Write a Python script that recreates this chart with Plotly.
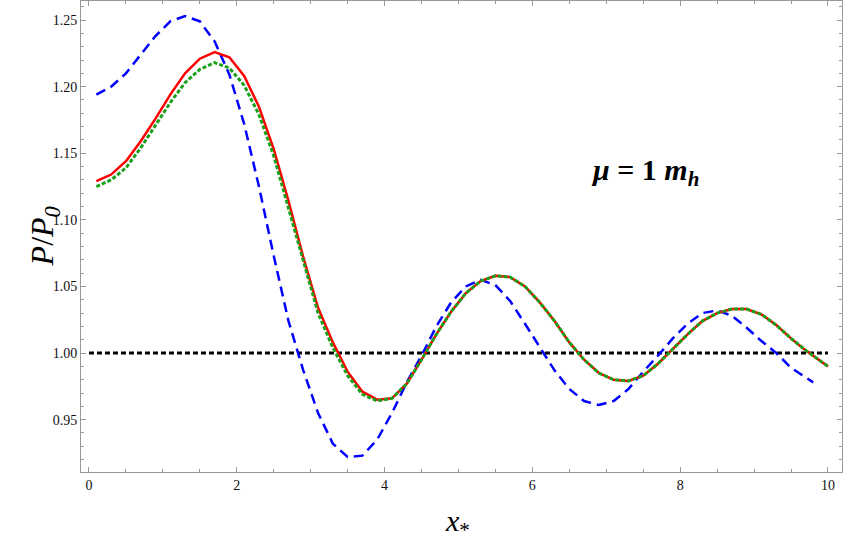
import plotly.graph_objects as go

x_vals = [0.1, 0.3, 0.5, 0.7, 0.9, 1.1, 1.3, 1.5, 1.7, 1.9,
          2.1, 2.3, 2.5, 2.7, 2.9, 3.1, 3.3, 3.5, 3.7, 3.9,
          4.1, 4.3, 4.5, 4.7, 4.9, 5.1, 5.3, 5.5, 5.7, 5.9,
          6.1, 6.3, 6.5, 6.7, 6.9, 7.1, 7.3, 7.5, 7.7, 7.9,
          8.1, 8.3, 8.5, 8.7, 8.9, 9.1, 9.3, 9.5, 9.7, 10.0]

red_vals = [1.129, 1.134, 1.144, 1.159, 1.176, 1.194, 1.210, 1.221, 1.226, 1.222,
            1.208, 1.185, 1.153, 1.114, 1.072, 1.034, 1.008, 0.986, 0.971, 0.965,
            0.966, 0.977, 0.995, 1.014, 1.031, 1.045, 1.054, 1.058, 1.057, 1.050,
            1.038, 1.024, 1.008, 0.995, 0.985, 0.980, 0.979, 0.983, 0.992, 1.003,
            1.014, 1.024, 1.030, 1.033, 1.033, 1.029, 1.021, 1.011, 1.002, 0.990]

green_vals = [1.125, 1.130, 1.139, 1.154, 1.171, 1.188, 1.203, 1.213, 1.218, 1.214,
              1.201, 1.179, 1.148, 1.109, 1.068, 1.030, 1.004, 0.983, 0.969, 0.964,
              0.966, 0.977, 0.995, 1.014, 1.031, 1.045, 1.054, 1.058, 1.057, 1.050,
              1.038, 1.024, 1.008, 0.995, 0.985, 0.980, 0.979, 0.983, 0.992, 1.003,
              1.014, 1.024, 1.030, 1.033, 1.033, 1.029, 1.021, 1.011, 1.002, 0.990]

blue_x = [0.1, 0.3, 0.5, 0.7, 0.9, 1.1, 1.3, 1.5, 1.7, 1.9,
          2.1, 2.3, 2.5, 2.7, 2.9, 3.1, 3.3, 3.5, 3.7, 3.9,
          4.1, 4.3, 4.5, 4.7, 4.9, 5.1, 5.3, 5.5, 5.7, 5.9,
          6.1, 6.3, 6.5, 6.7, 6.9, 7.1, 7.3, 7.5, 7.7, 7.9,
          8.1, 8.3, 8.5, 8.7, 8.9, 9.1, 9.3, 9.5, 9.8]

blue_vals = [1.194, 1.200, 1.210, 1.224, 1.238, 1.249, 1.253, 1.249, 1.234, 1.209,
             1.172, 1.125, 1.073, 1.024, 0.987, 0.955, 0.932, 0.922, 0.923, 0.935,
             0.955, 0.978, 0.998, 1.020, 1.038, 1.050, 1.055, 1.051, 1.039, 1.022,
             1.004, 0.987, 0.973, 0.964, 0.961, 0.964, 0.973, 0.986, 0.998, 1.011,
             1.022, 1.030, 1.032, 1.028, 1.019, 1.009, 1.000, 0.989, 0.978]

ref_x = [0.0, 10.0]
ref_vals = [1.0, 1.0]

serif = "Liberation Serif"

fig = go.Figure()
fig.add_trace(go.Scatter(x=ref_x, y=ref_vals, mode="lines",
                         line=dict(color="black", width=3, dash="5px,3px")))
fig.add_trace(go.Scatter(x=blue_x, y=blue_vals, mode="lines",
                         line=dict(color="#0000ff", width=2.5, dash="10px,6px")))
fig.add_trace(go.Scatter(x=x_vals, y=red_vals, mode="lines",
                         line=dict(color="#ff0000", width=2.5)))
fig.add_trace(go.Scatter(x=x_vals, y=green_vals, mode="lines",
                         line=dict(color="#1aa01a", width=3, dash="4px,2px")))

fig.add_annotation(x=7.52, y=1.136, text="<b><i>μ</i> = 1 <i>m<sub>h</sub></i></b>",
                   showarrow=False, font=dict(family=serif, size=30, color="black"))
# axis titles
fig.add_annotation(xref="paper", yref="paper", x=0.495, y=-0.108, yanchor="middle",
                   text="<i>x</i><sub>*</sub>", showarrow=False,
                   font=dict(family=serif, size=30, color="black"))
fig.add_annotation(xref="paper", yref="paper", x=-0.077, y=0.5, textangle=-90,
                   text="<i>P</i>/<i>P</i><sub><i>0</i></sub>", showarrow=False,
                   font=dict(family=serif, size=32, color="black"))

axis_common = dict(
    showgrid=False, zeroline=False, showline=True, linecolor="#999999", linewidth=1,
    mirror="ticks", ticks="inside", tickcolor="#999999", ticklen=5, automargin=False,
    tickfont=dict(family=serif, size=14, color="#111111"),
)

fig.update_layout(
    width=843, height=544,
    margin=dict(l=81, r=1, t=1, b=72),
    plot_bgcolor="white", paper_bgcolor="white",
    showlegend=False,
    xaxis=dict(range=[-0.108, 10.19], tickvals=[0, 2, 4, 6, 8, 10],
               minor=dict(ticks="inside", dtick=0.5, tick0=0, ticklen=3, tickcolor="#999999"),
               **axis_common),
    yaxis=dict(range=[0.9107, 1.2643], tickvals=[0.95, 1.00, 1.05, 1.10, 1.15, 1.20, 1.25],
               tickformat=".2f",
               minor=dict(ticks="inside", dtick=0.01, tick0=0.9, ticklen=3, tickcolor="#999999"),
               **axis_common),
)

fig.write_html("out.html", config={"displayModeBar": False},
               post_script="document.body.style.margin='0';")
